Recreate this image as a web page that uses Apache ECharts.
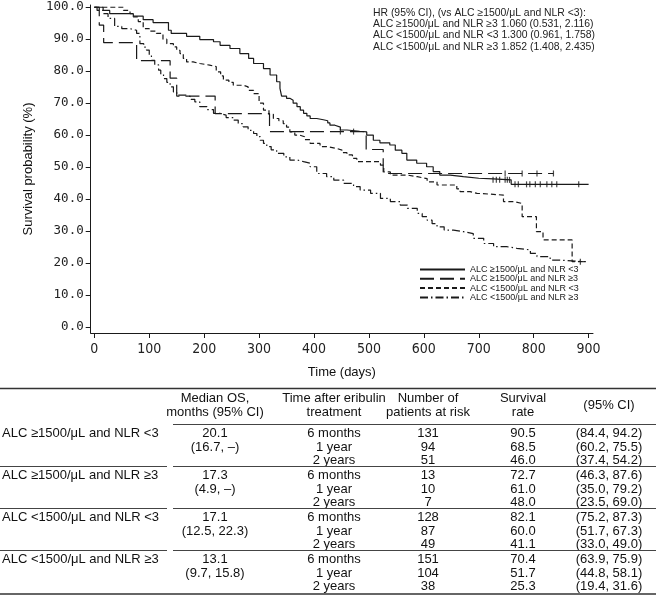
<!DOCTYPE html>
<html>
<head>
<meta charset="utf-8">
<script src="https://cdn.jsdelivr.net/npm/echarts@6/dist/echarts.min.js"></script>
<style>
html,body{margin:0;padding:0;background:#fff;}
#chart{width:660px;height:597px;}
</style>
</head>
<body>
<div id="chart"></div>
<script>
// ---------- data ----------
const seriesNames = ['ALC ≥1500/μL and NLR <3','ALC ≥1500/μL and NLR ≥3','ALC <1500/μL and NLR <3','ALC <1500/μL and NLR ≥3'];
const xTicks = [0,100,200,300,400,500,600,700,800,900];
const yTicks = [0,10,20,30,40,50,60,70,80,90,100];

// Kaplan-Meier steps: [day, survival % after the step]
const kmHighLow = [[0,100],[16,99],[28,98],[71,97.2],[89,96.1],[107,95.2],[135,92.8],[140,91.8],[168,90.9],[192,89.9],[217,89.2],[229,88.1],[247,87.1],[265,85.5],[281,84],[290,82.4],[308,80.8],[320,78.8],[332,76.7],[338,74.6],[341,72.2],[350,71.5],[356,70.9],[362,70],[369,68.9],[375,67.8],[381,66.8],[387,66],[393,65.2],[405,64.8],[417,64.5],[425,63.8],[429,63.1],[438,62.5],[448,61.6],[460,61.2],[483,61],[496,60],[508,58.4],[520,57.6],[538,56.9],[548,55.3],[560,54.3],[569,52.2],[587,51.2],[605,50.1],[617,48.6],[629,47.5],[648,47],[672,46.5],[700,46.3],[726,46],[759,44.6],[900,44.6]];
const kmHighHigh = [[0,100],[9,94.4],[17,88.9],[77,83.3],[138,77.8],[150,72.2],[220,66.7],[319,61.1],[495,55.5],[526,48.0],[836,48.0]];
const kmLowLow = [[0,100],[53,99],[65,98],[71,97],[80,95.5],[89,93.3],[100,92.5],[113,91.8],[125,90],[132,88.6],[144,87.6],[150,86.5],[156,85.5],[162,84],[168,82.9],[180,82.4],[192,81.9],[210,81.4],[222,79.8],[230,78.5],[235,77.2],[245,76.5],[253,75.6],[271,75.1],[280,74],[290,73],[300,70],[308,67.8],[318,66.5],[326,65.2],[336,64.5],[344,63.6],[350,62.5],[356,61],[365,60],[374,59.5],[383,58.6],[393,57.4],[411,56.4],[423,55.8],[442,55.3],[451,54.5],[460,53.8],[470,52.7],[478,51.7],[521,50.6],[527,48.5],[539,47.5],[570,47],[588,46.4],[606,45.4],[624,44.4],[660,43.2],[666,42.3],[684,41.8],[697,41.25],[745,39.2],[765,38.6],[779,34.5],[805,29.8],[817,27.2],[870,20.4],[891,20.4]];
const kmLowHigh = [[0,100],[5,99],[16,98],[25,96.5],[37,94],[50,93.3],[65,92.8],[77,91.8],[83,88.6],[90,87.5],[95,86.6],[100,85],[104,83.4],[110,82],[117,80.3],[121,79],[126,77.7],[132,76.5],[138,75.1],[144,73.5],[150,72.5],[168,72],[176,71.2],[183,70.4],[192,68.9],[205,68],[217,66.8],[229,66.25],[240,65.5],[253,64.7],[262,63.6],[271,62.6],[280,61.5],[290,60.5],[296,59.5],[302,58.4],[308,57.4],[314,56.4],[322,55.4],[332,54.3],[345,53.2],[356,52.2],[370,51.7],[381,51.2],[393,50.1],[405,48],[423,47],[436,45.9],[454,44.9],[472,43.9],[484,42.8],[503,41.8],[521,40.2],[539,39.2],[557,38.1],[570,37.1],[588,35.5],[597,34.5],[606,33.4],[615,32.3],[624,31.3],[637,30.3],[654,29.8],[672,29.2],[690,27.7],[709,26.1],[727,25.1],[751,24.6],[769,24.1],[794,23],[806,22],[830,20.9],[848,20.4],[895,20.4]];

// censored observations: [day, survival %]
const censHighLow = [[726,46],[732,46],[738,46],[748,46],[752,46],[756,46],[766,44.6],[772,44.6],[787,44.6],[793,44.6],[803,44.6],[812,44.6],[824,44.6],[833,44.6],[842,44.6],[882,44.6]];
const censHighHigh = [[448,61.1],[472,61.1],[748,48],[779,48],[806,48],[836,48]];
const censLowLow = [[885,20.4]];

const hrLines = [
  'HR (95% CI), (vs ALC ≥1500/μL and NLR <3):',
  'ALC ≥1500/μL and NLR ≥3 1.060 (0.531, 2.116)',
  'ALC <1500/μL and NLR <3 1.300 (0.961, 1.758)',
  'ALC <1500/μL and NLR ≥3 1.852 (1.408, 2.435)'
];

// table
const tableHeaders = ['Median OS,\nmonths (95% CI)','Time after eribulin\ntreatment','Number of\npatients at risk','Survival\nrate','(95% CI)'];
const medianOS = ['20.1','17.3','17.1','13.1'];
const medianCI = ['(16.7, –)','(4.9, –)','(12.5, 22.3)','(9.7, 15.8)'];
const timePoints = ['6 months','1 year','2 years'];
const atRisk = [['131','94','51'],['13','10','7'],['128','87','49'],['151','104','38']];
const survRate = [['90.5','68.5','46.0'],['72.7','61.0','48.0'],['82.1','60.0','41.1'],['70.4','51.7','25.3']];
const survCI = [['(84.4, 94.2)','(60.2, 75.5)','(37.4, 54.2)'],['(46.3, 87.6)','(35.0, 79.2)','(23.5, 69.0)'],['(75.2, 87.3)','(51.7, 67.3)','(33.0, 49.0)'],['(63.9, 75.9)','(44.8, 58.1)','(19.4, 31.6)']];

// ---------- chart ----------
const INK = '#1a1a1a';
const SANS = "'Liberation Sans', Arial, sans-serif";
const chart = echarts.init(document.getElementById('chart'), null, {renderer:'canvas'});

const kmData = [kmHighLow, kmHighHigh, kmLowLow, kmLowHigh];
const dashes = ['solid', [14,6], [5,3], [8,3,1.5,3]];
const censData = [censHighLow, censHighHigh, censLowLow];

const series = kmData.map((d,i)=>({
  name: seriesNames[i], type:'line', step:'end', data:d, symbol:'none', showSymbol:false,
  lineStyle:{color:INK, width:1.2, type:dashes[i]}, itemStyle:{color:INK},
  emphasis:{disabled:true}, animation:false, z:3
}));
censData.forEach((d,i)=>{
  series.push({type:'scatter', name:'cens'+i, data:d, symbol:'rect', symbolSize:[1.2,6],
    itemStyle:{color:INK}, silent:true, animation:false, z:4});
});

// table graphics
const g = [];
const T = {font:"13px " + SANS, fill:'#111'};
function txt(s,x,y,align){ g.push({type:'text', silent:true, style:{text:s, x:x, y:y, font:T.font, fill:T.fill, textAlign:align||'center', textVerticalAlign:'middle', verticalAlign:'middle', lineHeight:13.5}}); }
function hl(x1,x2,y,w,c){ g.push({type:'line', silent:true, shape:{x1:x1,y1:y,x2:x2,y2:y}, style:{stroke:c||'#444', lineWidth:w||1}}); }
const colX = [215, 334, 428, 523, 609];
const tableTop = 388.5, headRule = 424.5, groupH = 42;
hl(0, 656, tableTop, 1.5, '#333');
tableHeaders.forEach((h,i)=> txt(h, colX[i], 405.5));
hl(173, 656, headRule, 1, '#444');
seriesNames.forEach((nm,gi)=>{
  const y0 = headRule + gi*groupH;
  const rows = [y0+9, y0+22.5, y0+36];
  txt(nm, 2, rows[0], 'left');
  txt(medianOS[gi], colX[0], rows[0]);
  txt(medianCI[gi], colX[0], rows[1]);
  timePoints.forEach((tp,r)=>{
    txt(tp, colX[1], rows[r]);
    txt(atRisk[gi][r], colX[2], rows[r]);
    txt(survRate[gi][r], colX[3], rows[r]);
    txt(survCI[gi][r], colX[4], rows[r]);
  });
  const yl = y0 + groupH;
  if (gi < 3) { hl(0, 167, yl, 1, '#444'); hl(173, 656, yl, 1, '#444'); }
});
hl(0, 656, headRule + 4*groupH + 1.5, 1.5, '#333');

// HR annotation
g.push({type:'text', silent:true, style:{text:hrLines.join('\n'), x:373, y:7, font:"10.4px " + SANS, fill:'#222', lineHeight:11.4, textAlign:'left', textVerticalAlign:'top', verticalAlign:'top'}});

chart.setOption({
  animation:false,
  backgroundColor:'#fff',
  grid:{left:90.7, top:5, right:67, bottom:264, containLabel:false, outerBoundsMode:'none'},
  legend:{
    data:seriesNames, orient:'vertical', left:419, top:265, padding:0,
    itemWidth:45, itemHeight:10, itemGap:0.3, selectedMode:false,
    itemStyle:{opacity:0},
    textStyle:{fontSize:9, fontFamily:SANS, color:'#222'}
  },
  xAxis:{
    type:'value', min:-6.6, max:908,
    axisLine:{onZero:false, lineStyle:{color:INK, width:1}},
    axisTick:{show:true, inside:false, length:5, customValues:xTicks, lineStyle:{color:INK}},
    axisLabel:{customValues:xTicks, formatter:v=>String(v), margin:9, color:'#222', fontSize:14, fontFamily:"'Liberation Sans Narrow','DejaVu Sans Condensed','DejaVu Sans Mono',sans-serif"},
    splitLine:{show:false},
    name:'Time (days)', nameLocation:'middle', nameGap:33,
    nameTextStyle:{fontSize:13, fontFamily:SANS, color:'#111'}
  },
  yAxis:{
    type:'value', min:-1.9, max:100.7,
    axisLine:{onZero:false, lineStyle:{color:INK, width:1}},
    axisTick:{show:true, inside:false, length:5, customValues:yTicks, lineStyle:{color:INK}},
    axisLabel:{customValues:yTicks, formatter:v=>v.toFixed(1), margin:7, color:'#222', fontSize:12.5, fontFamily:"'DejaVu Sans Mono',monospace"},
    splitLine:{show:false},
    name:'Survival probability (%)', nameLocation:'middle', nameGap:54, nameRotate:90,
    nameTextStyle:{fontSize:13, fontFamily:SANS, color:'#111'}
  },
  graphic:{elements:g},
  series:series
});
</script>
</body>
</html>
